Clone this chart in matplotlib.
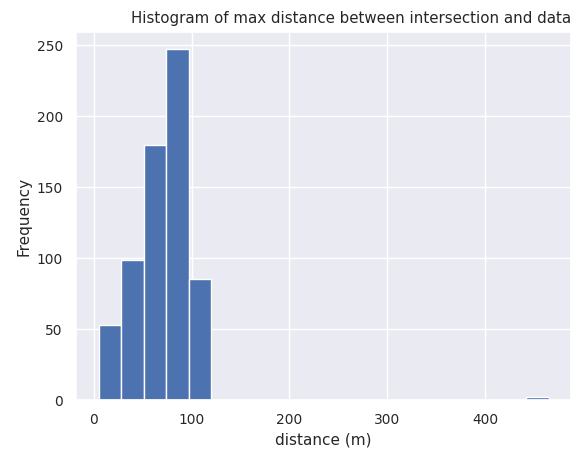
import matplotlib
matplotlib.use("Agg")
import matplotlib.pyplot as plt
import numpy as np
import seaborn as sns

sns.set_theme(font_scale=0.9)
bin_edges = np.linspace(5, 465, 21)
counts = [53, 99, 180, 247, 85, 0, 0, 0, 0, 0, 0, 0, 0, 0, 0, 0, 0, 0, 0, 2]

fig, ax = plt.subplots(figsize=(5.81, 4.61), dpi=100)
centers = (bin_edges[:-1] + bin_edges[1:]) / 2
ax.hist(centers, bins=bin_edges, weights=counts, color="#4c72b0", edgecolor="white")
ax.set_title("Histogram of max distance between intersection and data", x=0.555)
ax.set_xlabel("distance (m)", fontsize=11)
ax.set_ylabel("Frequency", fontsize=11)
fig.subplots_adjust(left=0.131, right=0.983, top=0.931, bottom=0.132)
fig.savefig("out.png")
